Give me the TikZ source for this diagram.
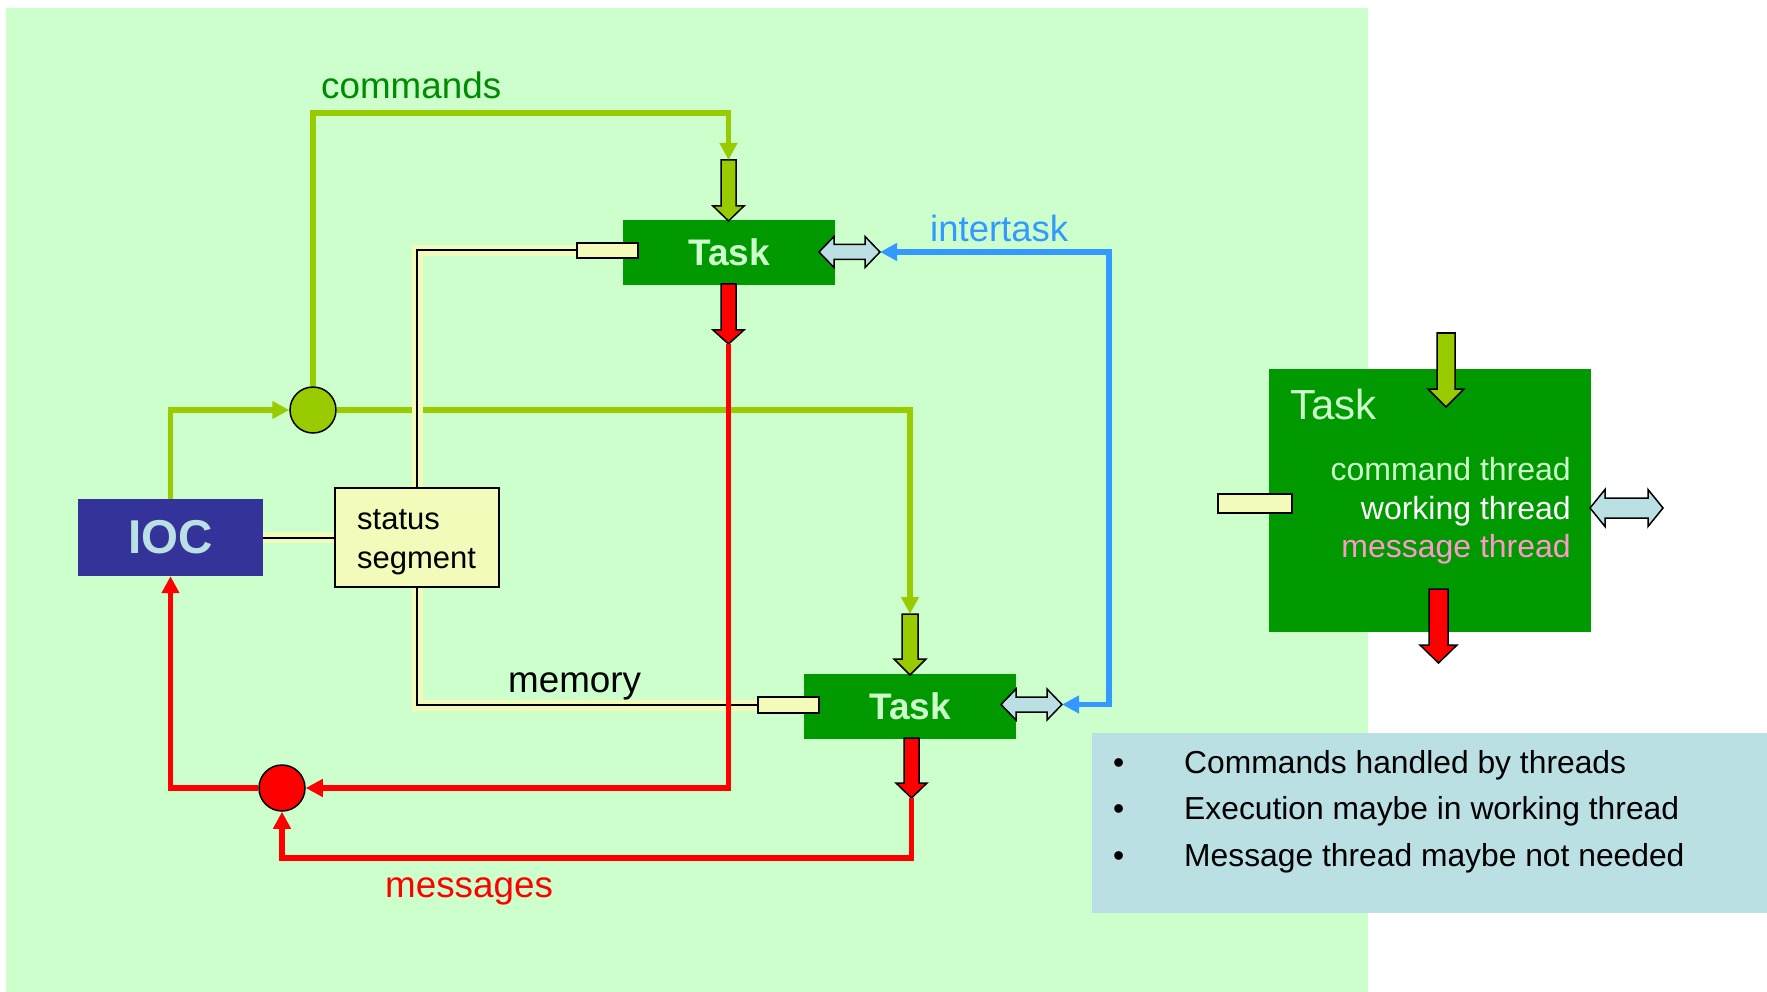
\documentclass[tikz,border=0pt]{standalone}
\usepackage{fontspec}
\setmainfont{Liberation Sans}
\usetikzlibrary{arrows.meta}

\definecolor{bggreen}{HTML}{CCFFCC}
\definecolor{taskgreen}{HTML}{009900}
\definecolor{labelgreen}{HTML}{008C00}
\definecolor{lime}{HTML}{99CC00}
\definecolor{iocblue}{HTML}{333399}
\definecolor{lightblue}{HTML}{BBE0E3}
\definecolor{memyellow}{HTML}{F2FBBA}
\definecolor{linkblue}{HTML}{3399FF}
\definecolor{msgred}{HTML}{FF0000}
\definecolor{pink}{HTML}{FF99CC}

\newcommand{\fsz}[2]{\fontsize{#1pt}{#2pt}\selectfont}

\begin{document}
\begin{tikzpicture}[x=1pt,y=-1pt,
  lbl/.style={inner sep=0pt, anchor=base west},
  lble/.style={inner sep=0pt, anchor=base east},
  tip/.style={-{Triangle[length=17pt,width=17pt]}},
  flow/.style={line width=5.5pt, line join=miter, tip},
  blk/.style={draw=black, line width=1.5pt, line join=miter},
  pipe/.style={draw=black, line width=2pt, line join=miter,
               preaction={draw=memyellow, line width=11pt}},
  taskbox/.style={fill=taskgreen, inner sep=0pt, text=bggreen,
                  font=\bfseries\fsz{37}{44},
                  minimum width=212pt, minimum height=65pt},
  membox/.style={fill=memyellow, draw=black, line width=1.5pt, inner sep=0pt},
  hub/.style={circle, draw=black, line width=1.5pt, inner sep=0pt, minimum size=46pt},
]
\useasboundingbox (0,0) rectangle (1767,992);
\fill[bggreen] (6,8) rectangle (1368,992);

% ---------- main blocks ----------
\node[taskbox] (t1) at (729,252.5) {Task};
\node[taskbox] (t2) at (910,706.5) {Task};
\node[fill=iocblue, inner sep=0pt, minimum width=185pt, minimum height=77pt,
      text=lightblue, font=\bfseries\fsz{47.5}{56}] (ioc) at (170.5,537.5) {IOC};
\node[membox, minimum width=164pt, minimum height=99pt] (seg) at (417,537.5) {};
\node[lbl, font=\fsz{31}{38}] (segtxt1) at (357,529) {status};
\node[lbl, font=\fsz{31}{38}] (segtxt2) at (357,568) {segment};

% memory ports
\node[membox, minimum width=61pt, minimum height=15pt] (t1mem) at (607.5,250.5) {};
\node[membox, minimum width=61pt, minimum height=16pt] (t2mem) at (788.5,705) {};

% fork and join points
\node[hub, fill=lime] (fork) at (313,410) {};
\node[hub, fill=msgred] (join) at (282,788) {};

% command inputs (block arrows)
\draw[blk, fill=lime] (721,160) -- (736,160) -- (736,206) -- (744,206) -- (728.5,221)
      -- (713,206) -- (721,206) -- cycle;
\coordinate (t1cmd) at (728.5,160);
\draw[blk, fill=lime] (902,614) -- (918,614) -- (918,659) -- (926,659) -- (910,675)
      -- (894,659) -- (902,659) -- cycle;
\coordinate (t2cmd) at (910,614);

% message outputs (block arrows)
\draw[blk, fill=msgred] (721,284) -- (736,284) -- (736,330) -- (744,330) -- (728.5,344)
      -- (713,330) -- (721,330) -- cycle;
\coordinate (t1msg) at (728.5,344);
\draw[blk, fill=msgred] (904,738) -- (919,738) -- (919,783) -- (927,783) -- (911.5,798)
      -- (896,783) -- (904,783) -- cycle;
\coordinate (t2msg) at (911.5,798);

% intertask ports (double block arrows)
\draw[blk, fill=lightblue] (819,252) -- (834,236.5) -- (834,244.5) -- (865,244.5)
      -- (865,236.5) -- (880,252) -- (865,267.5) -- (865,259.5) -- (834,259.5)
      -- (834,267.5) -- cycle;
\coordinate (t1ix) at (880,252);
\draw[blk, fill=lightblue] (1001,704.5) -- (1016,689) -- (1016,697) -- (1047,697)
      -- (1047,689) -- (1062,704.5) -- (1047,720) -- (1047,712) -- (1016,712)
      -- (1016,720) -- cycle;
\coordinate (t2ix) at (1062,704.5);

% ---------- connectors ----------
% commands
\draw[flow, lime] (ioc.north) |- (fork.west);
\draw[flow, lime] (fork.north) -- (313,113) -| (t1cmd);
\draw[flow, lime] (fork.east) -| (t2cmd);

% shared memory
\draw[pipe] (t1mem.west) -| (seg.north);
\draw[pipe] (seg.south) |- (t2mem.west);
\draw[pipe] (ioc.east) -- (seg.west);

% messages
\draw[flow, msgred] (t1msg) |- (join.east);
\draw[flow, msgred] (t2msg) -- (911.5,858) -| (join.south);
\draw[flow, msgred] (join.west) -| (ioc.south);

% intertask
\draw[line width=5.5pt, line join=miter, linkblue,
      {Triangle[length=17pt,width=17pt]}-{Triangle[length=17pt,width=17pt]}]
      (t1ix) -- (1109,252) |- (t2ix);

% labels
\node[lbl, text=labelgreen, font=\fsz{36.8}{44}] (lcmd) at (321,99) {commands};
\node[lbl, text=linkblue, font=\fsz{36.5}{44}] (lix) at (930,242) {intertask};
\node[lbl, text=black, font=\fsz{36.8}{44}] (lmem) at (508,692) {memory};
\node[lbl, text=msgred, font=\fsz{36.8}{44}] (lmsg) at (385,897) {messages};

% ---------- task detail ----------
\node[fill=taskgreen, inner sep=0pt, minimum width=322pt, minimum height=263pt]
      (bigtask) at (1430,500.5) {};
\node[lbl, text=bggreen, font=\fsz{42}{50}] (bigtitle) at (1290,419) {Task};
\node[lble, text=bggreen, font=\fsz{32}{38}] (thr1) at (1571,480) {command thread};
\node[lble, text=white, font=\fsz{32}{38}] (thr2) at (1571,519) {working thread};
\node[lble, text=pink, font=\fsz{32}{38}] (thr3) at (1571,557) {message thread};
\draw[blk, fill=lime] (1437,333) -- (1455,333) -- (1455,389) -- (1464,389) -- (1446,407)
      -- (1428,389) -- (1437,389) -- cycle;
\draw[blk, fill=msgred] (1429,589) -- (1448,589) -- (1448,645) -- (1457,645) -- (1438.5,663)
      -- (1420,645) -- (1429,645) -- cycle;
\node[membox, minimum width=74pt, minimum height=19pt] (bigmem) at (1255,503.5) {};
\draw[blk, fill=lightblue] (1590,508) -- (1605,489.5) -- (1605,498) -- (1648,498)
      -- (1648,489.5) -- (1663,508) -- (1648,526.5) -- (1648,518) -- (1605,518)
      -- (1605,526.5) -- cycle;

% ---------- notes ----------
\node[fill=lightblue, inner sep=0pt, minimum width=675pt, minimum height=180pt]
      (notes) at (1429.5,823) {};
\foreach \y/\t in {773/Commands handled by threads,
                   819/Execution maybe in working thread,
                   866/Message thread maybe not needed}{
  \node[lbl, font=\fsz{31.8}{38}] at (1113,\y) {•};
  \node[lbl, font=\fsz{31.8}{38}] at (1184,\y) {\t};
}
\end{tikzpicture}
\end{document}
